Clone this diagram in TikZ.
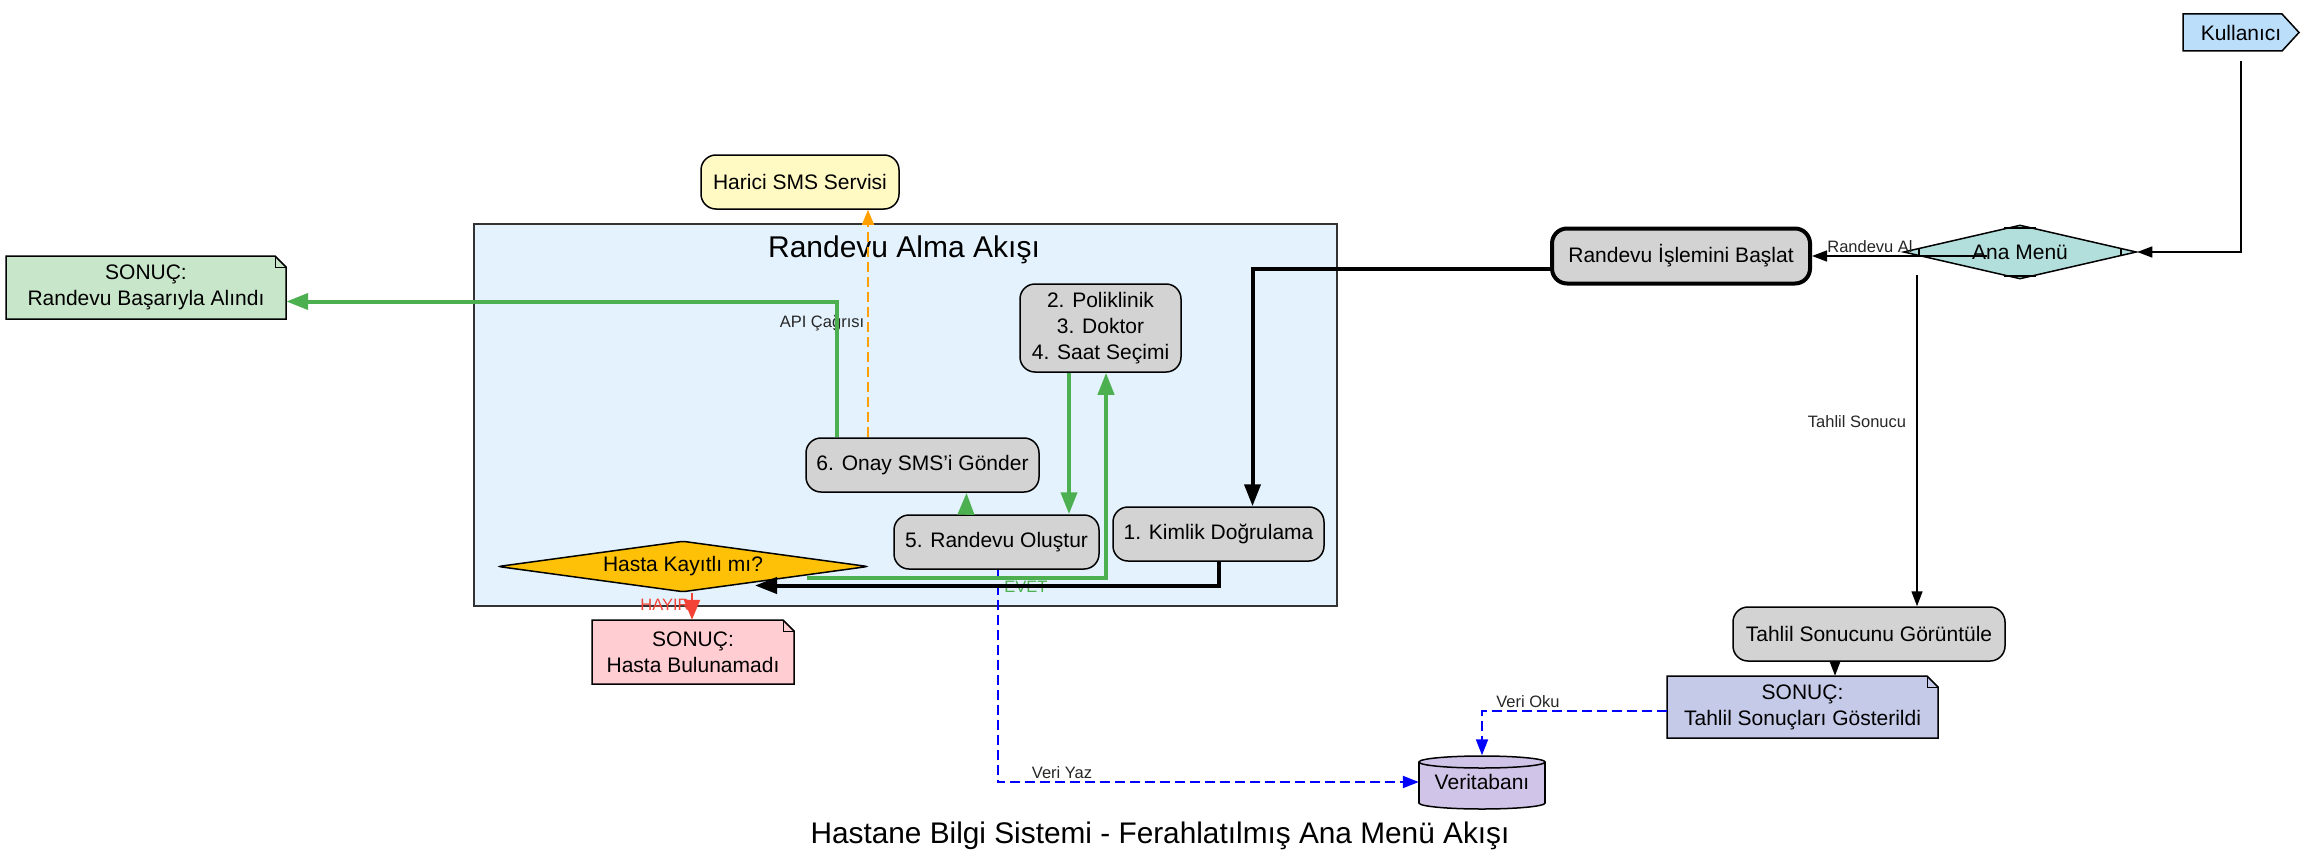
\documentclass[tikz,border=0pt]{standalone}
\usepackage{fontspec}
\setmainfont{Liberation Sans}
\usetikzlibrary{arrows.meta,shapes.geometric,calc}
\definecolor{nodegray}{HTML}{D3D3D3}
\definecolor{clusterblue}{HTML}{E3F2FD}
\definecolor{kulblue}{HTML}{BBDEFB}
\definecolor{menuteal}{HTML}{B2DFDB}
\definecolor{smsyellow}{HTML}{FFF9C4}
\definecolor{amber}{HTML}{FFC107}
\definecolor{notered}{HTML}{FFCDD2}
\definecolor{notegreen}{HTML}{C8E6C9}
\definecolor{noteindigo}{HTML}{C5CAE9}
\definecolor{dbpurple}{HTML}{D1C4E9}
\definecolor{flowgreen}{HTML}{4CAF50}
\definecolor{flowred}{HTML}{F44336}
\definecolor{floworange}{HTML}{FFA000}
\definecolor{dbblue}{HTML}{0000FF}
\newcommand\hbsnote[7]{%
 \filldraw[fill=#6, draw=black, line width=1.5pt] ({#2-#4/2},{#3-#5/2}) -- ({#2+#4/2-11},{#3-#5/2}) -- ({#2+#4/2},{#3-#5/2+11}) -- ({#2+#4/2},{#3+#5/2}) -- ({#2-#4/2},{#3+#5/2}) -- cycle;
 \draw[line width=1pt] ({#2+#4/2-11},{#3-#5/2}) -- ({#2+#4/2-11},{#3-#5/2+11}) -- ({#2+#4/2},{#3-#5/2+11});
 \node[notetext, minimum width=#4pt, minimum height=#5pt] (#1) at (#2,#3) {#7};}
\begin{document}
\begin{tikzpicture}[x=1pt,y=-1pt,
  every node/.style={font=\fontsize{21}{26}\selectfont},
  proc/.style={draw=black, line width=1.5pt, fill=nodegray, rounded corners=15pt, align=center, inner sep=0pt},
  notetext/.style={align=center, inner sep=0pt},
  elabel/.style={font=\fontsize{16.5}{19}\selectfont, text=black!85, inner sep=0pt, anchor=base},
  normarrow/.style={-{Triangle[length=15pt,width=11pt]}, line width=1.5pt},
  thickarrow/.style={-{Triangle[length=22pt,width=16pt]}, line width=4pt},
  greenarrow/.style={-{Triangle[length=22pt,width=16pt]}, line width=4pt, draw=flowgreen, color=flowgreen},
  redarrow/.style={-{Triangle[length=20pt,width=16pt]}, line width=2pt, draw=flowred, color=flowred},
  orangearrow/.style={-{Triangle[length=15pt,width=12pt]}, line width=1.5pt, dash pattern=on 10pt off 5pt, draw=floworange, color=floworange},
  dbarrow/.style={-{Triangle[length=16pt,width=12pt]}, line width=2pt, dash pattern=on 10pt off 5pt, draw=dbblue, color=dbblue}
]
\useasboundingbox (0,0) rectangle (2317,864);

% cluster
\node[draw=black!80, fill=clusterblue, line width=1.5pt, minimum width=863pt, minimum height=382pt, inner sep=0pt] (cl) at (905.5,415) {};
\node[font=\fontsize{30}{36}\selectfont, anchor=base] (cltitle) at (904,257) {Randevu Alma Akışı};

% title
\node[font=\fontsize{29.8}{36}\selectfont, anchor=base] (title) at (1160,843) {Hastane Bilgi Sistemi - Ferahlatılmış Ana Menü Akışı};

% Kullanici (cds shape)
\filldraw[fill=kulblue, draw=black, line width=1.5pt] (2183,14) -- (2282,14) -- (2299,32.5) -- (2282,51) -- (2183,51) -- cycle;
\node[inner sep=0pt, minimum width=116pt, minimum height=37pt] (kul) at (2241,32.5) {Kullanıcı};

% Ana Menu (Mdiamond)
\node[diamond, draw=black, fill=menuteal, line width=1.5pt, aspect=4.3, inner sep=0pt, minimum width=233pt, minimum height=54pt] (am) at (2020,252) {Ana Menü};
\draw[line width=1.2pt] ($(am.north)+(-16.3,3.8)$) -- ($(am.north)+(16.3,3.8)$)
  ($(am.south)+(-16.3,-3.8)$) -- ($(am.south)+(16.3,-3.8)$)
  ($(am.west)+(16.3,-3.8)$) -- ($(am.west)+(16.3,3.8)$)
  ($(am.east)+(-16.3,-3.8)$) -- ($(am.east)+(-16.3,3.8)$);

% process nodes
\node[proc, line width=4pt, minimum width=258pt, minimum height=55pt] (rib) at (1681,256) {Randevu İşlemini Başlat};
\node[proc, minimum width=272pt, minimum height=54pt] (tah) at (1869,634) {Tahlil Sonucunu Görüntüle};
\node[proc, fill=smsyellow, minimum width=198pt, minimum height=54pt] (sms) at (800,182) {Harici SMS Servisi};
\node[proc, minimum width=161pt, minimum height=88pt] (pol) at (1100.5,328) {2. Poliklinik\\3. Doktor\\4. Saat Seçimi};
\node[proc, minimum width=233pt, minimum height=54pt] (onay) at (922.5,465) {6. Onay SMS'i Gönder};
\node[proc, minimum width=205pt, minimum height=54pt] (ran) at (996.5,542) {5. Randevu Oluştur};
\node[proc, minimum width=211pt, minimum height=54pt] (kim) at (1218.5,534) {1. Kimlik Doğrulama};

% decision
\node[diamond, draw=black, fill=amber, line width=1.5pt, aspect=7, inner sep=0pt, minimum width=370pt, minimum height=51pt, rounded corners=3pt] (hk) at (683,566.5) {Hasta Kayıtlı mı?};

% notes
\hbsnote{rba}{146}{287.5}{280}{63}{notegreen}{SONUÇ:\\Randevu Başarıyla Alındı}
\hbsnote{hb}{693}{652}{202}{64}{notered}{SONUÇ:\\Hasta Bulunamadı}
\hbsnote{tnote}{1802.5}{707}{271}{62}{noteindigo}{SONUÇ:\\Tahlil Sonuçları Gösterildi}

% database cylinder
\filldraw[fill=dbpurple, draw=black, line width=1.5pt] (1482,803) ellipse [x radius=63, y radius=6];
\fill[dbpurple] (1419,762) rectangle (1545,803);
\draw[line width=1.5pt] (1419,762) -- (1419,803) (1545,762) -- (1545,803);
\filldraw[fill=dbpurple, draw=black, line width=1.5pt] (1482,762) ellipse [x radius=63, y radius=6];
\node[inner sep=0pt, minimum width=126pt, minimum height=53pt] (db) at (1482,782) {Veritabanı};

% edge labels (drawn below edges)
\node[elabel] (lra) at (1870,252) {Randevu Al};
\node[elabel] (lts) at (1857,427) {Tahlil Sonucu};
\node[elabel] (lvo) at (1528,707) {Veri Oku};
\node[elabel] (lvy) at (1062,778) {Veri Yaz};
\node[elabel] (lapi) at (822,327) {API Çağrısı};
\node[elabel, text=flowgreen] (levet) at (1026,592) {EVET};
\node[elabel, text=flowred] (lhayir) at (665,610) {HAYIR};

% edges
\draw[normarrow] ([yshift=-10pt]kul.south) |- (am.east);
\draw[normarrow] ($(am.center)+(-33,4)$) -- (rib.east);
\draw[normarrow] ($(am.center)+(-103,23)$) -- ([xshift=48pt]tah.north);
\draw[normarrow] ([xshift=-34pt]tah.south) -- ([xshift=32.5pt]tnote.north);
\draw[dbarrow] ([yshift=-4pt]tnote.west) -| (db.north);
\draw[dbarrow] ([xshift=1pt]ran.south) |- (db.west);
\draw[thickarrow] ([yshift=-13pt]rib.west) -| ([xshift=34pt]kim.north);
\draw[thickarrow] (kim.south) |- ($(hk.center)+(72,19)$);
\draw[greenarrow] ($(hk.center)+(124,11)$) -| ([xshift=5.5pt]pol.south);
\draw[greenarrow] ([xshift=-31.5pt]pol.south) -- ([xshift=72.5pt]ran.north);
\draw[greenarrow] ([xshift=-30.5pt]ran.north) -- ([xshift=44pt]onay.south);
\draw[greenarrow] ([xshift=-85.5pt]onay.north) |- ([yshift=-14pt]rba.east);
\draw[redarrow] ([xshift=9pt]hk.south) -- ([xshift=-1pt]hb.north);
\draw[orangearrow] ([xshift=-54.5pt]onay.north) -- ([xshift=68pt]sms.south);
\end{tikzpicture}
\end{document}
